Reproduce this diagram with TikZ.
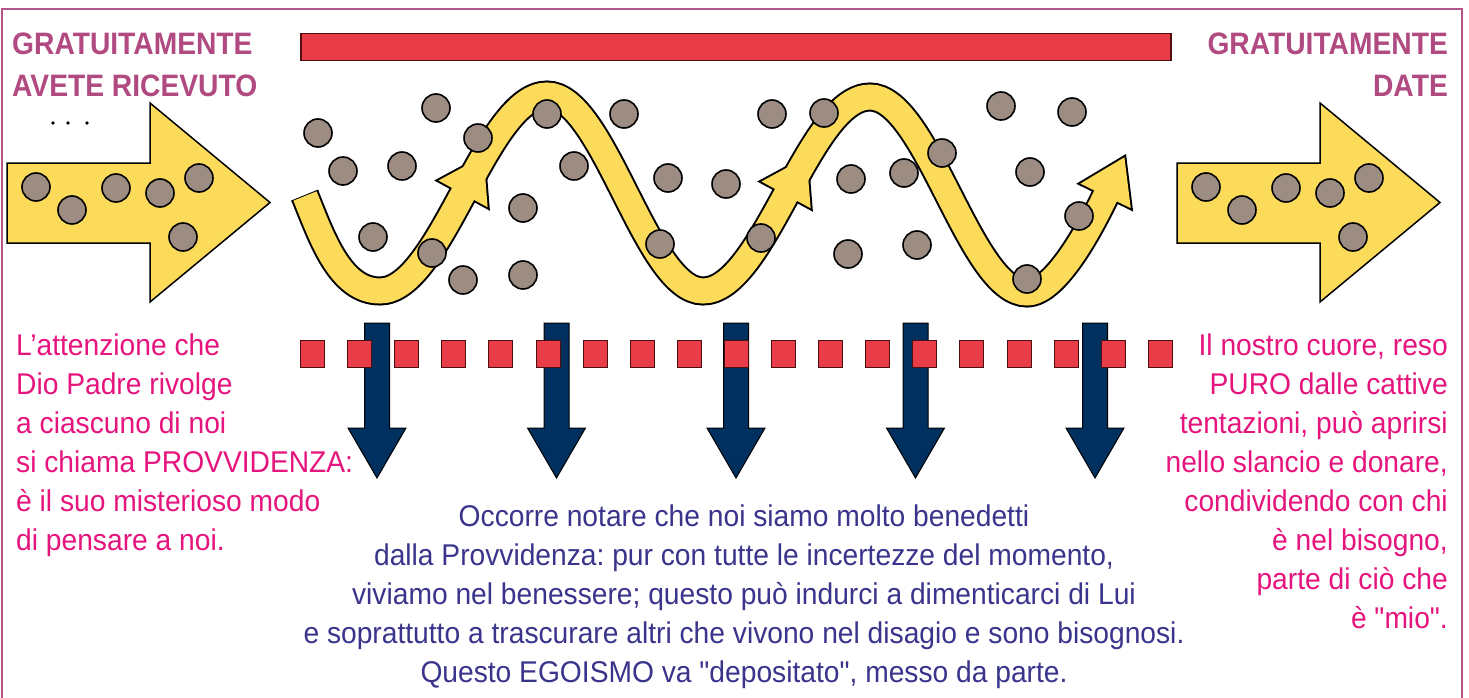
\documentclass[tikz,border=0pt]{standalone}
\usepackage{fontspec}
\setmainfont{Liberation Sans}
\newfontfamily\bodyfont[FakeStretch=0.94]{Liberation Sans}
\newfontfamily\titlefont[FakeStretch=0.91]{Liberation Sans}
\definecolor{framec}{RGB}{180,85,140}
\definecolor{titlec}{RGB}{176,74,128}
\definecolor{magtext}{RGB}{230,20,125}
\definecolor{bluetext}{RGB}{58,52,140}
\definecolor{redfill}{RGB}{232,60,72}
\definecolor{reddark}{RGB}{80,15,15}
\definecolor{yellowf}{RGB}{252,218,90}
\definecolor{coingray}{RGB}{156,140,130}
\definecolor{navy}{RGB}{0,48,96}
\frenchspacing
\begin{document}
\begin{tikzpicture}[x=1pt,y=-1pt,
  coin/.style={circle, draw=black, line width=1.6pt, fill=coingray, minimum size=28pt, inner sep=0pt},
  redsq/.style={draw=reddark, line width=1pt, fill=redfill, minimum width=24pt, minimum height=27pt, inner sep=0pt, anchor=north west},
  bigarrow/.style={fill=yellowf, draw=black, line width=1.5pt, line join=miter},
  downarrow/.style={fill=navy, draw=black, line width=1pt},
  titletext/.style={text=titlec, font=\titlefont\bfseries\fontsize{31}{42}\selectfont, inner sep=0pt},
  bodytext/.style={font=\bodyfont\fontsize{30}{39}\selectfont, inner sep=0pt}]
\useasboundingbox (0,0) rectangle (1469,698);
\fill[white] (0,0) rectangle (1469,698);
% frame
\draw[framec, line width=2pt] (1.5,700) -- (1.5,9) -- (1462,9) -- (1462,700);
% titles
\node[titletext, anchor=north west, align=left] (tl) at (12,33) {GRATUITAMENTE\\AVETE RICEVUTO};
\node[titletext, anchor=north east, align=right] (tr) at (1448,33) {GRATUITAMENTE\\DATE};
% small marks
\foreach \mx [count=\i] in {53,68,87} \fill[black] (\mx,123) circle (1.8pt);
% red bar
\node[draw=reddark, line width=1.5pt, fill=redfill, minimum width=870pt, minimum height=27pt, inner sep=0pt, anchor=north west] (bar) at (300,33) {};
% big yellow arrows
\draw[bigarrow] (7,163) -- (150,163) -- (150,103) -- (270,202.5) -- (150,302) -- (150,243) -- (7,243) -- cycle;
\draw[bigarrow] (1177,163) -- (1320,163) -- (1320,103) -- (1440,202.5) -- (1320,302) -- (1320,243) -- (1177,243) -- cycle;
\foreach \p [count=\i] in {(36,187),(72,210),(116,188),(160,193),(199,178),(183,237)}
  \node[coin] (lc\i) at \p {};
\foreach \p [count=\i] in {(1206,187),(1242,210),(1286,188),(1330,193),(1369,178),(1353,237)}
  \node[coin] (rc\i) at \p {};
% wave band: outline layer
\path[save path=\bandp] (305,196) .. controls (322,238) and (340,291) .. (380,291)
  .. controls (441,291) and (486,95) .. (547,95)
  .. controls (604,95) and (646,291) .. (703,291)
  .. controls (764,291) and (809,97) .. (870,97)
  .. controls (927,97) and (970,293) .. (1027,293)
  .. controls (1057,293) and (1093,222) .. (1106,195);
\draw[use path=\bandp, black, line width=29pt];
\draw[black, line width=2pt] (291.5,201.5) -- (318.5,190.5);
\foreach \px/\py/\ang in {463.5/193/61.5, 786.5/194/61.5, 1106/195/64}
  \draw[black, fill=black, line width=4pt, line join=miter, shift={(\px,\py)}, rotate=\ang] (-1,-28) -- (42,0) -- (-1,28) -- cycle;
% wave band: fill layer
\draw[use path=\bandp, yellowf, line width=25pt];
\foreach \px/\py/\ang in {463.5/193/61.5, 786.5/194/61.5, 1106/195/64}
  \fill[yellowf, shift={(\px,\py)}, rotate=\ang] (-1,-28) -- (42,0) -- (-1,28) -- cycle;
% coins on wave
\foreach \p [count=\i] in {(318,133),(436,108),(343,171),(402,166),(478,138),(547,114),(624,114),(574,166),(523,208),(373,237),(432,253),(463,280),(523,275),(668,178),(726,184),(660,244),(772,114),(824,113),(851,179),(904,173),(942,153),(1001,106),(1072,112),(1030,172),(1079,216),(1027,279),(761,238),(848,254),(917,245)}
  \node[coin] (wc\i) at \p {};
% blue down arrows
\foreach \cx [count=\i] in {377,556.5,736,915.5,1095}
  \draw[downarrow] ({\cx-12.5},323) -- ({\cx+12.5},323) -- ({\cx+12.5},428) -- ({\cx+29},428) -- (\cx,478) -- ({\cx-29},428) -- ({\cx-12.5},428) -- cycle;
% red squares
\foreach \i in {0,...,18}
  \node[redsq] (sq\i) at ({300+47.1*\i},340) {};
% texts
\node[bodytext, text=magtext, anchor=north west, align=left] (lefttext) at (16,334)
  {L’attenzione che\\Dio Padre rivolge\\a ciascuno di noi\\si chiama PROVVIDENZA:\\è il suo misterioso modo\\di pensare a noi.};
\node[bodytext, text=magtext, anchor=north east, align=right] (righttext) at (1448,334)
  {Il nostro cuore, reso\\PURO dalle cattive\\tentazioni, può aprirsi\\nello slancio e donare,\\condividendo con chi\\è nel bisogno,\\parte di ciò che\\è "mio".};
\node[bodytext, text=bluetext, anchor=north, align=center] (bottomtext) at (744,505)
  {Occorre notare che noi siamo molto benedetti\\dalla Provvidenza: pur con tutte le incertezze del momento,\\viviamo nel benessere; questo può indurci a dimenticarci di Lui\\e soprattutto a trascurare altri che vivono nel disagio e sono bisognosi.\\Questo EGOISMO va "depositato", messo da parte.};
\end{tikzpicture}
\end{document}
